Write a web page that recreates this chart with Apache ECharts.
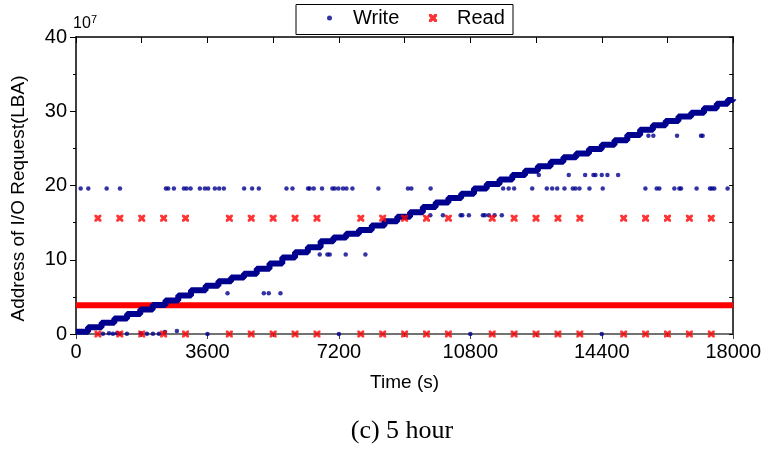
<!DOCTYPE html>
<html><head><meta charset="utf-8">
<script src="https://cdn.jsdelivr.net/npm/echarts@6/dist/echarts.min.js"></script>
<style>html,body{margin:0;padding:0;background:#fff}#c{width:764px;height:454px}</style>
</head><body><div id="c"></div><script>
// ---- data ----
const xTicks = [0, 3600, 7200, 10800, 14400, 18000];
const yTicks = [0, 10, 20, 30, 40];
const yScaleLabel = '10';
const yScaleExp = '7';

// Write: sequential staircase (step start time, LBA level x1e7)
const writeStepTimes  = [0, 330, 700, 1050, 1400, 1760, 2100, 2450, 2800, 3150, 3550, 3900, 4250, 4600, 4950, 5300, 5650, 6000, 6350, 6700, 7050, 7400, 7750, 8100, 8450, 8800, 9150, 9500, 9850, 10200, 10550, 10900, 11250, 11600, 11950, 12300, 12650, 13000, 13350, 13700, 14050, 14400, 14750, 15100, 15450, 15800, 16150, 16500, 16850, 17200, 17550, 17850, 18000];
const writeStepLevels = [0.3, 0.9, 1.5, 2.1, 2.7, 3.3, 3.9, 4.5, 5.2, 5.9, 6.5, 7.1, 7.6, 8.1, 8.8, 9.5, 10.3, 11.0, 11.7, 12.5, 13.0, 13.5, 14.0, 14.6, 15.2, 15.8, 16.4, 17.1, 17.7, 18.3, 18.9, 19.6, 20.2, 20.8, 21.4, 22.0, 22.6, 23.2, 23.8, 24.3, 24.9, 25.5, 26.1, 26.8, 27.5, 28.1, 28.7, 29.3, 29.8, 30.4, 31.0, 31.5, 31.6];

// Write: scattered requests [time, level]
const writeScatter = [
  [128,19.6],[337,19.6],[840,19.6],[1204,19.6],[2462,19.6],[2525,19.6],[2681,19.6],[2955,19.6],[3029,19.6],[3138,19.6],
  [3392,19.6],[3529,19.6],[3620,19.6],[3803,19.6],[3921,19.6],[4049,19.6],[4605,19.6],[4824,19.6],[5007,19.6],[5765,19.6],
  [5929,19.6],[6356,19.6],[6402,19.6],[6512,19.6],[6739,19.6],[7023,19.6],[7086,19.6],[7187,19.6],[7313,19.6],[7406,19.6],
  [7571,19.6],[8282,19.6],[9092,19.6],[9185,19.6],[9713,19.6],[11700,19.6],[11850,19.6],[12000,19.6],[12495,19.6],[12895,19.6],
  [13042,19.6],[13179,19.6],[13379,19.6],[13606,19.6],[13680,19.6],[13790,19.6],[14063,19.6],[14427,19.6],[15595,19.6],[15904,19.6],
  [15978,19.6],[16388,19.6],[16525,19.6],[16571,19.6],[16998,19.6],[17364,19.6],[17419,19.6],[17483,19.6],[17847,19.6],
  [9705,16.0],[10050,16.0],[10534,16.0],[10580,16.0],[10761,16.0],[11144,16.0],[11199,16.0],[11308,16.0],[11464,16.0],[11663,16.0],
  [12676,21.4],[13497,21.4],[13945,21.4],[14172,21.4],[14227,21.4],[14400,21.4],[14555,21.4],[14848,21.4],
  [15403,26.7],[15677,26.7],[15813,26.7],[16462,26.7],[17118,26.7],[17163,26.7],
  [6676,10.7],[6886,10.7],[6949,10.7],[7387,10.7],[7926,10.7],
  [4150,5.5],[5144,5.5],[5280,5.5],[5600,5.5],
  [739,0.05],[903,0.1],[1012,0.05],[1122,0.1],[1204,0.05],[1395,0.05],[1778,0.1],[1943,0.05],[2107,0.05],[2271,0.05],
  [2435,0.27],[2763,0.4],[3600,0],[7200,0],[10800,0],[14400,0]
];

// Read: scattered requests at two levels, and a dense band
const readTimes = [600,1200,1800,2400,3000,4200,4800,5400,6000,6600,7800,8400,9000,9600,10200,11400,12000,12600,13200,13800,15000,15600,16200,16800,17400];
const readHighLevel = 15.6;
const readLowLevel = 0;
const readBandTimes = [0, 18000];
const readBandLevel = 3.87;

// ---- chart ----
const FONT = '"Liberation Sans", Arial, sans-serif';
const XPATH = 'path://M0,0 L3,0 L5,2 L7,0 L10,0 L10,3 L8,5 L10,7 L10,10 L7,10 L5,8 L3,10 L0,10 L0,7 L2,5 L0,3 Z';
const BLUE = '#00008f';
const RED = '#ff0000';
const FS = 20;   // tick labels, legend
const FN = 19;   // axis names

const stairData = writeStepTimes.map((t, i) => [t, writeStepLevels[i]]);
const readData = readTimes.map(t => [t, readHighLevel]).concat(readTimes.map(t => [t, readLowLevel]));
const bandData = readBandTimes.map(t => [t, readBandLevel]);

const chart = echarts.init(document.getElementById('c'), null, {renderer: 'canvas'});
chart.setOption({
  animation: false,
  backgroundColor: '#fff',
  grid: {left: 76, top: 37, right: 30, bottom: 120, containLabel: false},
  xAxis: [{
    type: 'value', position: 'bottom', min: xTicks[0], max: xTicks[xTicks.length - 1], interval: xTicks[1] - xTicks[0],
    axisLine: {show: true, onZero: false, lineStyle: {color: '#444', width: 1.5}},
    axisTick: {show: true, inside: false, length: 5, lineStyle: {color: '#444', width: 1}},
    minorTick: {show: true, splitNumber: 2, length: 3, lineStyle: {color: '#444', width: 1}},
    axisLabel: {fontSize: FS, fontFamily: FONT, color: '#000', margin: 8, formatter: v => String(v)},
    splitLine: {show: false},
    name: 'Time (s)', nameLocation: 'middle', nameGap: 39,
    nameTextStyle: {fontSize: FN, fontFamily: FONT, color: '#000'}
  }, {
    type: 'value', position: 'top', min: xTicks[0], max: xTicks[xTicks.length - 1], interval: (xTicks[1] - xTicks[0]) / 2,
    axisLine: {show: true, onZero: false, lineStyle: {color: '#000', width: 1.5}},
    axisTick: {show: true, inside: true, length: 6, lineStyle: {color: '#000', width: 1}},
    axisLabel: {show: false}, splitLine: {show: false}
  }],
  yAxis: [{
    type: 'value', position: 'left', min: yTicks[0], max: yTicks[yTicks.length - 1], interval: yTicks[1] - yTicks[0],
    axisLine: {show: true, onZero: false, lineStyle: {color: '#000', width: 1.5}},
    axisTick: {show: true, inside: false, length: 6, lineStyle: {color: '#000', width: 1}},
    minorTick: {show: true, splitNumber: 2, length: 3, lineStyle: {color: '#000', width: 1}},
    axisLabel: {fontSize: FS, fontFamily: FONT, color: '#000', margin: 9},
    splitLine: {show: false},
    name: 'Address of I/O Request(LBA)', nameLocation: 'middle', nameGap: 48, nameRotate: 90,
    nameTextStyle: {fontSize: FN, fontFamily: FONT, color: '#000', padding: [0, 26, 0, 0]}
  }, {
    type: 'value', position: 'right', min: yTicks[0], max: yTicks[yTicks.length - 1], interval: (yTicks[1] - yTicks[0]) / 2,
    axisLine: {show: true, onZero: false, lineStyle: {color: '#000', width: 1.5}},
    axisTick: {show: true, inside: true, length: 4, lineStyle: {color: '#000', width: 1}},
    axisLabel: {show: false}, splitLine: {show: false}
  }],
  legend: [{
    data: [{name: 'Write', icon: 'circle'}],
    left: 327, top: 8, padding: 0, itemWidth: 5, itemHeight: 5, z: 20,
    textStyle: {fontSize: FS, fontFamily: FONT, color: '#000', padding: [0, 0, 0, 16]}
  }, {
    data: [{name: 'Read', icon: XPATH}],
    left: 429, top: 8, padding: 0, itemWidth: 8, itemHeight: 8, z: 20,
    textStyle: {fontSize: FS, fontFamily: FONT, color: '#000', padding: [0, 0, 0, 15]}
  }],
  graphic: [
    {type: 'rect', z: 10, shape: {x: 296, y: 4.5, width: 217, height: 30}, style: {fill: '#fff', stroke: '#000', lineWidth: 1}},
    {type: 'text', z: 10, x: 73, y: 16, style: {text: yScaleLabel, font: '16px ' + FONT, fill: '#000'}},
    {type: 'text', z: 10, x: 91, y: 14, style: {text: yScaleExp, font: '11px ' + FONT, fill: '#000'}},
    {type: 'text', z: 10, x: 402, y: 431, style: {text: '(c) 5 hour', font: '26px "Liberation Serif", "Times New Roman", serif', fill: '#000', textAlign: 'center', textVerticalAlign: 'middle'}}
  ],
  series: [{
    name: 'ReadBand', type: 'line', data: bandData, showSymbol: false, symbol: 'none',
    lineStyle: {color: RED, width: 6}, z: 2, silent: true
  }, {
    name: 'WriteStair', type: 'line', step: 'end', data: stairData, showSymbol: false, symbol: 'none',
    lineStyle: {color: BLUE, width: 6}, z: 3, silent: true
  }, {
    name: 'Write', type: 'scatter', data: writeScatter, symbol: 'circle', symbolSize: 4.5,
    itemStyle: {color: BLUE}, z: 4
  }, {
    name: 'Read', type: 'scatter', data: readData, symbol: XPATH, symbolSize: 7,
    itemStyle: {color: RED}, z: 5
  }]
});
</script></body></html>
